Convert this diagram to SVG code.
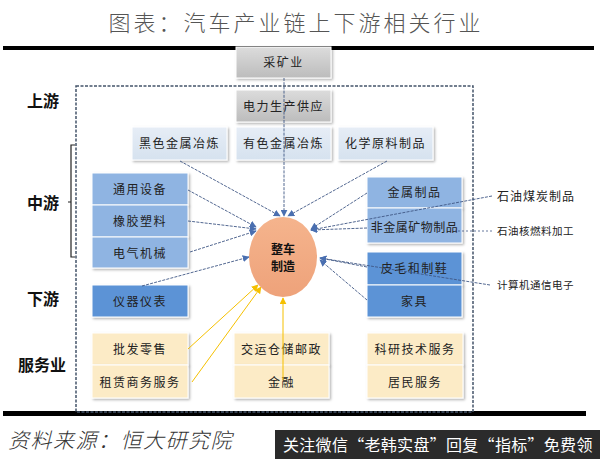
<svg xmlns="http://www.w3.org/2000/svg" width="600" height="459" viewBox="0 0 600 459">
<defs>
<linearGradient id="gGray" x1="0" y1="0" x2="0" y2="1"><stop offset="0" stop-color="#dcdcdc"/><stop offset="1" stop-color="#bcbcbc"/></linearGradient>
<linearGradient id="gLight" x1="0" y1="0" x2="0" y2="1"><stop offset="0" stop-color="#e6edf6"/><stop offset="1" stop-color="#d6e2ef"/></linearGradient>
<linearGradient id="gSalmon" x1="0" y1="0" x2="0" y2="1"><stop offset="0" stop-color="#f5b48d"/><stop offset="1" stop-color="#eea27a"/></linearGradient>
<filter id="sh" x="-10%" y="-10%" width="130%" height="140%"><feDropShadow dx="1.5" dy="1.5" stdDeviation="1.2" flood-color="#000" flood-opacity="0.3"/></filter>
<marker id="aB" viewBox="0 0 10 10" refX="9" refY="5" markerWidth="7" markerHeight="7" orient="auto" markerUnits="userSpaceOnUse"><path d="M0,0 L10,5 L0,10 z" fill="#4a6fb0"/></marker>
<marker id="aY" viewBox="0 0 10 10" refX="9" refY="5" markerWidth="7" markerHeight="7" orient="auto" markerUnits="userSpaceOnUse"><path d="M0,0 L10,5 L0,10 z" fill="#f5c000"/></marker>
</defs>
<style>
text{font-family:"Noto Sans CJK SC","Noto Sans CJK TC",sans-serif;}
.bx{stroke:#fff;stroke-width:1;filter:url(#sh);}
.gray{fill:url(#gGray);}
.light{fill:url(#gLight);}
.mid{fill:#8fb4e2;}
.dark{fill:#5b93d6;}
.yel{fill:#fcebc6;}
.t{font-size:12px;fill:#222;text-anchor:middle;letter-spacing:1.5px;}
.side{font-size:16px;font-weight:bold;fill:#111;text-anchor:middle;}
.rl{font-size:12px;fill:#222;letter-spacing:1px;}
.c{fill:none;stroke:#3f5785;stroke-width:0.9;stroke-dasharray:3 1.2;marker-end:url(#aB);}
.cd{fill:none;stroke:#3f5785;stroke-width:0.8;stroke-dasharray:2 2;}
.cy{fill:none;stroke:#f5c000;stroke-width:1;marker-end:url(#aY);}
</style>
<rect width="600" height="459" fill="#fff"/>
<text x="296" y="31" font-size="22" fill="#555" text-anchor="middle" letter-spacing="3" style="font-weight:300">图表：汽车产业链上下游相关行业</text>
<rect x="3" y="46" width="591" height="4" fill="#000"/>
<rect x="3" y="411" width="583" height="5" fill="#000"/>
<rect x="76" y="86" width="397" height="326" fill="none" stroke="#44546a" stroke-width="1.5" stroke-dasharray="3 1.5"/>
<g id="labels">
<text class="side" x="43" y="107">上游</text>
<text class="side" x="43" y="209">中游</text>
<text class="side" x="43" y="305">下游</text>
<text class="side" x="42" y="371">服务业</text>
<path d="M75,145 H71 V257 H75 M71,202 H68" fill="none" stroke="#222" stroke-width="1.2"/>
</g>
<g id="n-caikuang"><rect class="bx gray" x="236" y="47" width="95" height="31"/><text class="t" x="283.5" y="67" font-size="11">采矿业</text></g>
<g id="n-dianli"><rect class="bx gray" x="236" y="90" width="95" height="32"/><text class="t" x="283.5" y="111">电力生产供应</text></g>
<g id="n-heise"><rect class="bx light" x="132" y="127" width="95" height="33"/><text class="t" x="179.5" y="148">黑色金属冶炼</text></g>
<g id="n-youse"><rect class="bx light" x="236" y="127" width="95" height="33"/><text class="t" x="283.5" y="148">有色金属冶炼</text></g>
<g id="n-huaxue"><rect class="bx light" x="338" y="127" width="95" height="33"/><text class="t" x="385.5" y="148">化学原料制品</text></g>
<g id="n-tongyong"><rect class="bx mid" x="92" y="173" width="96" height="32"/><text class="t" x="140" y="194">通用设备</text></g>
<g id="n-xiangjiao"><rect class="bx mid" x="92" y="205" width="96" height="32"/><text class="t" x="140" y="226">橡胶塑料</text></g>
<g id="n-dianqi"><rect class="bx mid" x="92" y="237" width="96" height="31"/><text class="t" x="140" y="258">电气机械</text></g>
<g id="n-yiqi"><rect class="bx dark" x="92" y="285" width="96" height="32"/><text class="t" x="140" y="306">仪器仪表</text></g>
<g id="n-jinshu"><rect class="bx mid" x="367" y="177" width="95" height="31"/><text class="t" x="414.5" y="197">金属制品</text></g>
<g id="n-feijinshu"><rect class="bx mid" x="367" y="208" width="95" height="35"/><text class="t" x="414.5" y="232" style="letter-spacing:0.5px">非金属矿物制品</text></g>
<g id="n-pimao"><rect class="bx dark" x="367" y="252" width="95" height="33"/><text class="t" x="414.5" y="273">皮毛和制鞋</text></g>
<g id="n-jiaju"><rect class="bx dark" x="367" y="285" width="95" height="32"/><text class="t" x="414.5" y="306">家具</text></g>
<g id="n-pifa"><rect class="bx yel" x="92" y="333" width="96" height="32"/><text class="t" x="140" y="354">批发零售</text></g>
<g id="n-zulin"><rect class="bx yel" x="92" y="365" width="96" height="33"/><text class="t" x="140" y="387">租赁商务服务</text></g>
<g id="n-jiaoyun"><rect class="bx yel" x="234" y="333" width="95" height="32"/><text class="t" x="281.5" y="354">交运仓储邮政</text></g>
<g id="n-jinrong"><rect class="bx yel" x="234" y="365" width="95" height="33"/><text class="t" x="281.5" y="387">金融</text></g>
<g id="n-keyan"><rect class="bx yel" x="367" y="333" width="96" height="32"/><text class="t" x="415" y="354">科研技术服务</text></g>
<g id="n-jumin"><rect class="bx yel" x="367" y="365" width="96" height="33"/><text class="t" x="415" y="387">居民服务</text></g>
<g id="n-shiyoumeitan"><text class="rl" x="497" y="201">石油煤炭制品</text></g>
<g id="n-shiyouhe"><text class="rl" x="497" y="235" style="font-size:10.5px;letter-spacing:0.5px">石油核燃料加工</text></g>
<g id="n-jisuanji"><text class="rl" x="497" y="289" style="font-size:10.5px;letter-spacing:0.5px">计算机通信电子</text></g>
<g id="connectors">
<path class="c" d="M180,161 L280,216"/>
<path class="c" d="M284,78 L284,216"/>
<path class="c" d="M387,161 L288,216"/>
<path class="c" d="M188,190 L256,227"/>
<path class="c" d="M188,221 L256,229"/>
<path class="c" d="M190,252 L256,231"/>
<path class="c" d="M142,286 L249,257"/>
<path class="c" d="M367,193 L311,229"/>
<path class="c" d="M492,196 L311,230"/>
<path class="c" d="M367,228 L311,230"/>
<path class="cd" d="M492,231 L455,231"/>
<path class="c" d="M367,267 L320,258"/>
<path class="c" d="M490,285 L320,258"/>
<path class="c" d="M367,300 L320,260"/>
<path class="cy" d="M188,349 L258,285"/>
<path class="cy" d="M192,382 L261,287"/>
<path class="cy" d="M283,380 L283,298"/>
</g>
<g id="n-zhengche"><ellipse cx="283" cy="257" rx="34" ry="40" fill="url(#gSalmon)"/><text x="283" y="254" font-size="12" font-weight="bold" fill="#111" text-anchor="middle">整车</text><text x="283" y="271" font-size="12" font-weight="bold" fill="#111" text-anchor="middle">制造</text></g>
<text x="8" y="448" font-size="21" fill="#333" font-style="italic" letter-spacing="1.5" style="font-weight:300">资料来源：恒大研究院</text>
<rect x="275" y="430" width="325" height="29" fill="#2b2b2b"/>
<text x="283" y="451" font-size="16" fill="#fff" letter-spacing="0.3">关注微信“老韩实盘”回复“指标”免费领</text>
</svg>
